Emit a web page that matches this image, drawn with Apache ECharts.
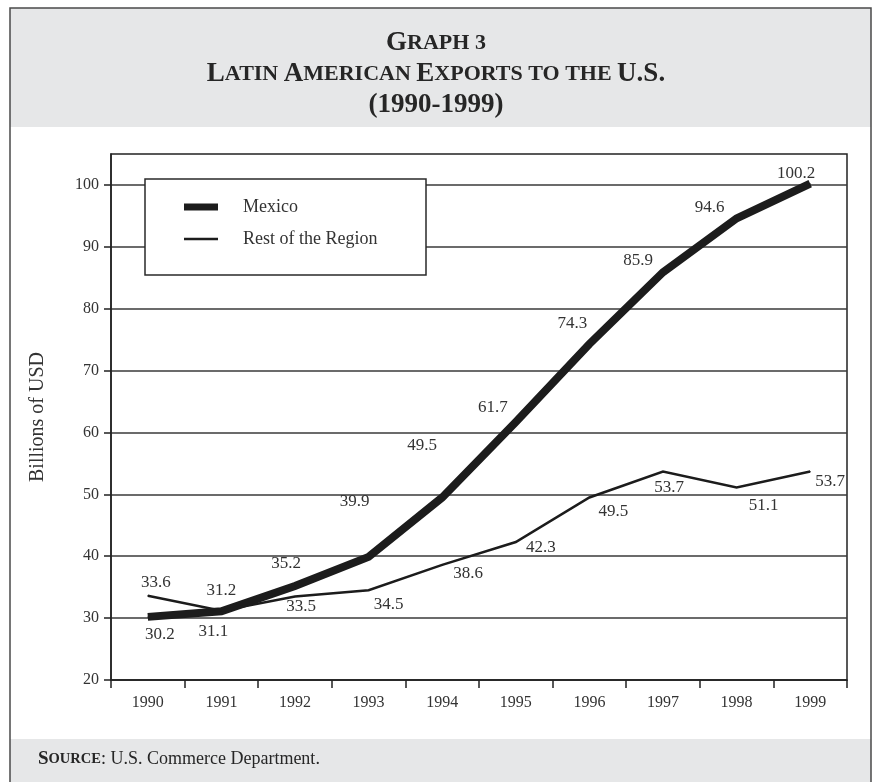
<!DOCTYPE html>
<html>
<head>
<meta charset="utf-8">
<script src="https://cdn.jsdelivr.net/npm/echarts@6/dist/echarts.min.js"></script>
<style>
  html, body { margin: 0; padding: 0; background: #ffffff; }
  #chart { width: 872px; height: 782px; }
</style>
</head>
<body>
<div id="chart"></div>
<script>
// Latin American exports to the U.S., billions of USD
const years = ['1990', '1991', '1992', '1993', '1994', '1995', '1996', '1997', '1998', '1999'];
const mexico = [30.2, 31.1, 35.2, 39.9, 49.5, 61.7, 74.3, 85.9, 94.6, 100.2];
const restOfRegion = [33.6, 31.2, 33.5, 34.5, 38.6, 42.3, 49.5, 53.7, 51.1, 53.7];
const yTicks = [20, 30, 40, 50, 60, 70, 80, 90, 100];

// Where each value label sits relative to its point (px)
const mexicoLabelOffsets = [[12, 18], [-8, 20], [-9, -22], [-14, -55], [-20, -52], [-23, -14], [-17, -20], [-25, -12], [-27, -11], [-14, -10]];
const restLabelOffsets = [[8, -13], [0, -20], [6, 10], [20, 14], [26, 9], [25, 6], [24, 14], [6, 16], [27, 18], [20, 10]];

const FONT = "'Liberation Serif', 'Times New Roman', serif";
const INK = '#1c1c1c';
const TEXT = '#333333';
const HEAD = '#262626';
const PANEL = '#e6e7e8';

function withLabels(values, offsets) {
  return values.map((v, i) => ({ value: v, label: { offset: offsets[i] } }));
}

// Small-caps heading line: large initials, smaller remaining capitals
const capsRich = {
  a: { fontFamily: FONT, fontWeight: 'bold', fontSize: 27, color: HEAD },
  b: { fontFamily: FONT, fontWeight: 'bold', fontSize: 22, color: HEAD }
};

const chart = echarts.init(document.getElementById('chart'), null, { renderer: 'canvas' });

chart.setOption({
  animation: false,
  backgroundColor: '#ffffff',
  textStyle: { fontFamily: FONT },
  graphic: [
    { type: 'rect', z: -1, silent: true, shape: { x: 10, y: 8, width: 861, height: 119 }, style: { fill: PANEL } },
    { type: 'rect', z: -1, silent: true, shape: { x: 10, y: 739, width: 861, height: 50 }, style: { fill: PANEL } },
    { type: 'rect', z: -1, silent: true, shape: { x: 10, y: 8, width: 861, height: 800 }, style: { fill: 'none', stroke: '#4a4a4a', lineWidth: 1.5 } },
    { type: 'rect', z: 3, silent: true, shape: { x: 145, y: 179, width: 281, height: 96 }, style: { fill: '#ffffff', stroke: '#2a2a2a', lineWidth: 1.5 } }
  ],
  title: [
    { left: 'center', top: 30, padding: 0, text: '{a|G}{b|RAPH 3}', textStyle: { rich: capsRich } },
    { left: 'center', top: 61, padding: 0, text: '{a|L}{b|ATIN }{a|A}{b|MERICAN }{a|E}{b|XPORTS TO THE }{a|U.S.}', textStyle: { rich: capsRich } },
    { left: 'center', top: 92, padding: 0, text: '{a|(1990-1999)}', textStyle: { rich: capsRich } },
    {
      left: 38,
      top: 750,
      padding: 0,
      text: '{a|S}{b|OURCE}{c|: U.S. Commerce Department.}',
      textStyle: {
        rich: {
          a: { fontFamily: FONT, fontWeight: 'bold', fontSize: 19, color: HEAD },
          b: { fontFamily: FONT, fontWeight: 'bold', fontSize: 14.5, color: HEAD },
          c: { fontFamily: FONT, fontWeight: 'normal', fontSize: 18, color: HEAD }
        }
      }
    }
  ],
  legend: {
    orient: 'vertical',
    left: 184,
    top: 198,
    padding: 0,
    itemWidth: 34,
    itemHeight: 7,
    itemGap: 14,
    z: 4,
    selectedMode: false,
    textStyle: { fontFamily: FONT, fontSize: 18, color: TEXT, lineHeight: 18, padding: [0, 0, 0, 20] },
    data: [
      { name: 'Mexico', icon: 'rect', itemStyle: { color: INK } },
      { name: 'Rest of the Region', icon: 'path://M0,0H34V2.5H0Z', itemStyle: { color: INK } }
    ]
  },
  grid: {
    left: 111,
    right: 25,
    top: 154,
    bottom: 102,
    show: true,
    borderColor: '#222222',
    borderWidth: 1.5,
    backgroundColor: 'transparent'
  },
  xAxis: {
    type: 'category',
    data: years,
    boundaryGap: true,
    axisLine: { lineStyle: { color: '#222222', width: 1.5 } },
    axisTick: { show: true, alignWithLabel: false, length: 8, lineStyle: { color: '#222222', width: 1.5 } },
    axisLabel: { color: TEXT, fontSize: 16, fontFamily: FONT, margin: 15 },
    splitLine: { show: false }
  },
  yAxis: {
    type: 'value',
    min: 20,
    max: 105,
    interval: 10,
    name: 'Billions of USD',
    nameLocation: 'middle',
    nameGap: 63,
    nameTextStyle: { color: TEXT, fontSize: 20, fontFamily: FONT },
    axisLine: { show: true, lineStyle: { color: '#222222', width: 1.5 } },
    axisTick: { show: true, length: 7, customValues: yTicks, lineStyle: { color: '#222222', width: 1.5 } },
    axisLabel: { color: TEXT, fontSize: 16, fontFamily: FONT, margin: 12, customValues: yTicks },
    splitLine: { show: true, lineStyle: { color: '#3a3a3a', width: 1.5 } }
  },
  series: [
    {
      name: 'Mexico',
      type: 'line',
      data: withLabels(mexico, mexicoLabelOffsets),
      symbol: 'circle',
      symbolSize: 1,
      itemStyle: { color: INK },
      lineStyle: { color: INK, width: 8, join: 'miter', cap: 'butt' },
      label: { show: true, position: 'inside', color: TEXT, fontSize: 17, fontFamily: FONT },
      emphasis: { disabled: true },
      z: 2
    },
    {
      name: 'Rest of the Region',
      type: 'line',
      data: withLabels(restOfRegion, restLabelOffsets),
      symbol: 'circle',
      symbolSize: 1,
      itemStyle: { color: INK },
      lineStyle: { color: INK, width: 2.5, join: 'miter' },
      label: { show: true, position: 'inside', color: TEXT, fontSize: 17, fontFamily: FONT },
      emphasis: { disabled: true },
      z: 2
    }
  ]
});
</script>
</body>
</html>
